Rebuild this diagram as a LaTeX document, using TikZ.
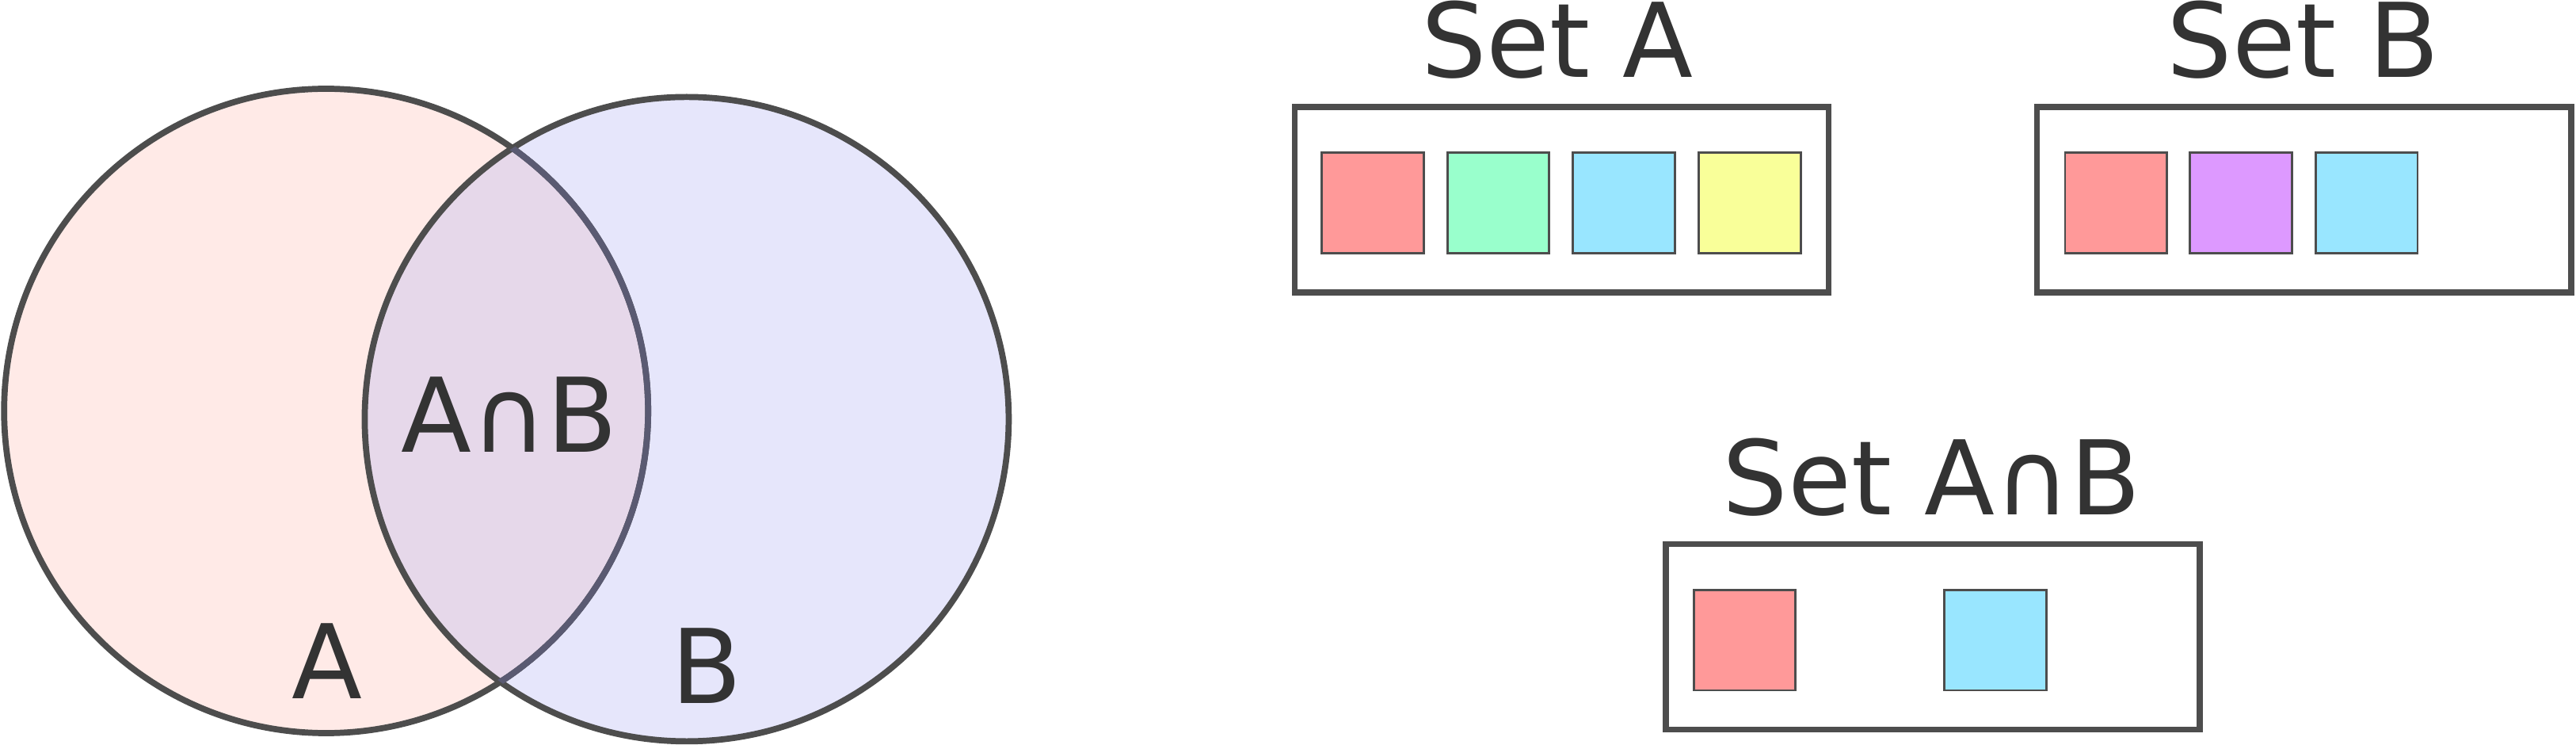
\documentclass[tikz,border=0pt]{standalone}
\usepackage{fontspec}
\setmainfont{DejaVu Sans}
\usepackage{tikz}
\definecolor{edgegray}{HTML}{4D4D4D}
\definecolor{edgeblue}{HTML}{5A5A72}
\definecolor{textgray}{HTML}{333333}
\definecolor{fillA}{HTML}{FFEAE7}
\definecolor{fillB}{HTML}{E6E6FB}
\definecolor{fillAB}{HTML}{E6D8EA}
\definecolor{itemred}{HTML}{FF9999}
\definecolor{itemgreen}{HTML}{99FFCC}
\definecolor{itemblue}{HTML}{99E6FF}
\definecolor{itemyellow}{HTML}{F9FF99}
\definecolor{itempurple}{HTML}{DD99FF}
\tikzset{
	label/.style={text=textgray, font=\fontsize{37}{44}\selectfont, inner sep=0pt, anchor=base},
	setbox/.style={draw=edgegray, line width=2.1pt, minimum width=67.4mm, minimum height=23.4mm, inner sep=0pt},
	item/.style={draw=edgegray, line width=0.8pt, minimum width=12.86mm, minimum height=12.65mm, inner sep=0pt}
}

\begin{document}
\begin{tikzpicture}[x=0.2074mm, y=-0.2074mm]
			%%%%% START %%%%%
			\useasboundingbox (0, 0) rectangle (1568, 453);
			
			\fill[fillA] (198.5, 250) circle (196);
			\fill[fillB] (418, 255) circle (196);
			\begin{scope}
				\clip (198.5, 250) circle (196);
				\fill[fillAB] (418, 255) circle (196);
			\end{scope}
			
			\draw[line width=2.2pt, color=edgegray] (198.5, 250) circle (196);
			\draw[line width=2.2pt, color=edgegray] (418, 255) circle (196);
			\begin{scope}
				\clip (418, 255) circle (196);
				\draw[line width=2.2pt, color=edgeblue] (198.5, 250) circle (196);
			\end{scope}
			
			\node[label] (labelab) at (310, 275) {A∩B};
			\node[label] (labela) at (199, 425) {A};
			\node[label] (labelb) at (430, 428) {B};
			
			\node[label] (titlea) at (948, 47) {Set A};
			\node[label] (titleb) at (1402, 47) {Set B};
			\node[label] (titleab) at (1176, 313) {Set A∩B};
			
			\node[setbox] (boxa) at (950.5, 121.5) {};
			\node[setbox] (boxb) at (1402.5, 121.5) {};
			\node[setbox] (boxab) at (1176.5, 387.5) {};
			
			\node[item, fill=itemred] (a1) at (835.5, 123.5) {};
			\node[item, fill=itemgreen] (a2) at (912, 123.5) {};
			\node[item, fill=itemblue] (a3) at (988.5, 123.5) {};
			\node[item, fill=itemyellow] (a4) at (1065, 123.5) {};
			
			\node[item, fill=itemred] (b1) at (1288, 123.5) {};
			\node[item, fill=itempurple] (b2) at (1364, 123.5) {};
			\node[item, fill=itemblue] (b3) at (1440.5, 123.5) {};
			
			\node[item, fill=itemred] (ab1) at (1062, 389.5) {};
			\node[item, fill=itemblue] (ab2) at (1214.5, 389.5) {};
			%%%%% END %%%%%
\end{tikzpicture}
\end{document}
